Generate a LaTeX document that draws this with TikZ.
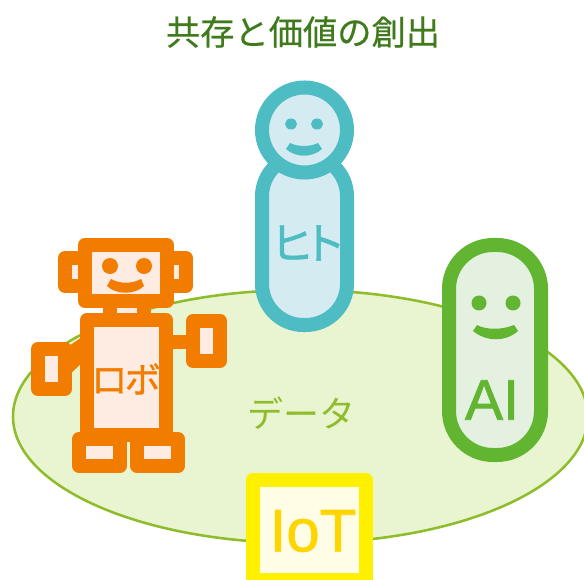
\documentclass[tikz,border=0pt]{standalone}
\usepackage{fontspec}
\usepackage{tikz}
\newfontfamily\jpfont{Noto Sans CJK JP}
\newfontfamily\jpheavy[FakeBold=1.2]{Noto Sans CJK JP}
\newfontfamily\jpmedium[FakeBold=0.4]{Noto Sans CJK JP}
\newfontfamily\latinfont[FakeBold=1.2]{Liberation Sans}
\definecolor{titlegreen}{HTML}{3F7A1C}
\definecolor{fieldline}{HTML}{8FBC2B}
\definecolor{fieldfill}{HTML}{E9F5D0}
\definecolor{hitoline}{HTML}{4DBCC3}
\definecolor{hitofill}{HTML}{D3EBF1}
\definecolor{ailine}{HTML}{62B531}
\definecolor{aifill}{HTML}{E4F0E0}
\definecolor{robotline}{HTML}{F27C00}
\definecolor{robotfill}{HTML}{FEECE2}
\definecolor{iotline}{HTML}{FFF000}
\definecolor{iotfill}{HTML}{FFFDE5}
\definecolor{iottext}{HTML}{FFD500}
\tikzset{
  hitopart/.style={draw=hitoline, fill=hitofill, line width=10.5pt},
  aipart/.style={draw=ailine, fill=aifill, line width=10.5pt},
  robotpart/.style={draw=robotline, fill=robotfill, line width=10.5pt, line join=round},
  iotpart/.style={draw=iotline, fill=iotfill, line width=10.5pt, line join=round},
  wordlabel/.style={inner sep=0pt, font=\fontsize{#1}{#1}\selectfont}
}

\begin{document}
\begin{tikzpicture}[x=0.75pt, y=-0.75pt]
	\useasboundingbox (0,0) rectangle (584,580);
	\clip (0,0) rectangle (584,580);

	% title and the data field
	\node[wordlabel=25.7, text=titlegreen] (title) at (303,32) {\jpmedium 共存と価値の創出};
	\draw[draw=fieldline, fill=fieldfill, line width=1.9pt] (300.4,416.5) ellipse (287.4 and 126.5);
	\node[wordlabel=27, text=fieldline] (data) at (301,413) {\jpfont データ};

	% hito
	\draw[hitopart, rounded corners=31pt] (262,155) rectangle (347,325);
	\draw[hitopart] (304.5,130) circle (42.5);
	\fill[hitoline] (291,124) ellipse (6 and 5.5);
	\fill[hitoline] (317,124) ellipse (6 and 5.5);
	\fill[hitoline] (286,149) -- (290,143) .. controls (298,147) and (310,147) .. (318,143) -- (322,149) .. controls (312,158) and (296,158) .. (286,149) -- cycle;
	\node[wordlabel=33, text=hitoline] (hito) at (308,243) {\jpheavy ヒ\kern-9ptト};

	% ai
	\draw[aipart, rounded corners=33pt] (449,245) rectangle (541,455);
	\fill[ailine] (479,303) circle (7.5);
	\fill[ailine] (513,303) circle (7.5);
	\fill[ailine] (473,331) -- (477,325) .. controls (486,330) and (502,330) .. (514,325) -- (518,331) .. controls (506,342) and (486,342) .. (473,331) -- cycle;
	\node[wordlabel=43, text=ailine] (ai) at (492,400) {\latinfont AI};

	% robot arms and neck
	\fill[robotline] (60,352) -- (85,335) -- (85,360) -- (66,378) -- cycle;
	\fill[robotline] (165,335) rectangle (195,349);
	\draw[robotpart] (38,349) rectangle (65,389);
	\draw[robotpart] (193,321) rectangle (220,361);
	\draw[robotpart] (110,300) rectangle (144,320);

	% robot ears, head, face
	\draw[robotpart] (65,258) rectangle (100,286);
	\draw[robotpart] (150,258) rectangle (186,286);
	\draw[robotpart] (85,245) rectangle (167,301);
	\fill[robotline] (110,266) circle (8);
	\fill[robotline] (144,266) circle (8);
	\fill[robotline] (107,286) -- (111,279) .. controls (120,284) and (132,284) .. (141,279) -- (144,286) .. controls (135,295) and (116,295) .. (107,286) -- cycle;

	% robot body and feet
	\draw[robotpart] (87,320) rectangle (166,435);
	\node[wordlabel=27, text=robotline] (robo) at (126,379) {\jpheavy ロ\kern-2ptボ};
	\draw[robotpart] (79,439) rectangle (120,466);
	\draw[robotpart] (137,439) rectangle (178,466);

	% iot
	\draw[iotpart] (252.5,480) rectangle (366,580);
	\node[wordlabel=45, text=iottext] (iot) at (313,531) {\latinfont IoT};
\end{tikzpicture}
\end{document}
